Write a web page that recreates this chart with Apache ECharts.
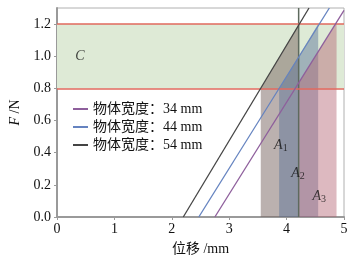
<!DOCTYPE html>
<html>
<head>
<meta charset="utf-8">
<script src="https://cdn.jsdelivr.net/npm/echarts@6/dist/echarts.min.js"></script>
<style>
  html, body { margin: 0; padding: 0; background: #fff; }
  #chart { width: 361px; height: 261px; }
</style>
</head>
<body>
<div id="chart"></div>
<script>
// force-displacement lines for each object width
const seriesNames = ["物体宽度：34 mm", "物体宽度：44 mm", "物体宽度：54 mm"];
const line34 = [[2.75, 0], [5.0, 1.285]];
const line44 = [[2.47, 0], [4.745, 1.3]];
const line54 = [[2.2, 0], [4.39, 1.3]];

// shaded areas under each line between F = 0.8 and F = 1.2
const areaA1 = [[3.55, 0.8], [4.21, 1.2]];
const areaA2 = [[3.87, 0.8], [4.55, 1.2]];
const areaA3 = [[4.2, 0.83], [4.87, 1.21]];

const bandLow = 0.8;
const bandHigh = 1.2;
const dividerX = 4.21;

const annotations = [
  { value: [0.4, 1.0], text: "{i|C}" },
  { value: [3.9, 0.445], text: "{i|A}{s|1}" },
  { value: [4.2, 0.27], text: "{i|A}{s|2}" },
  { value: [4.57, 0.13], text: "{i|A}{s|3}" }
];

const serif = "'Liberation Serif', 'Noto Sans CJK SC', serif";
const colors = ["#8e5f9c", "#6583c0", "#444444"];

const chart = echarts.init(document.getElementById("chart"));

const areaSeries = (data, color) => ({
  type: "line",
  data: data,
  showSymbol: false,
  silent: true,
  lineStyle: { width: 0 },
  areaStyle: { color: color, opacity: 1 },
  z: 3
});

const option = {
  animation: false,
  textStyle: { fontFamily: serif },
  grid: { left: 57, right: 17, top: 8, bottom: 40, show: true, borderColor: "#b0b0b0", borderWidth: 1 },
  legend: {
    orient: "vertical",
    left: 68,
    top: 97,
    itemGap: 4,
    itemWidth: 15,
    itemHeight: 2,
    icon: "rect",
    data: seriesNames,
    textStyle: { fontFamily: serif, fontSize: 14, color: "#111" }
  },
  xAxis: {
    type: "value",
    min: 0,
    max: 5,
    interval: 1,
    name: "位移 /mm",
    nameLocation: "middle",
    nameGap: 25,
    nameTextStyle: { fontFamily: serif, fontSize: 14, color: "#111" },
    axisLine: { lineStyle: { color: "#9a9a9a", width: 2 } },
    axisTick: { length: 3, lineStyle: { color: "#9a9a9a" } },
    axisLabel: { color: "#111", fontSize: 14, margin: 5 },
    splitLine: { show: false }
  },
  yAxis: {
    type: "value",
    min: 0,
    max: 1.3,
    interval: 0.2,
    name: "{i|F} /N",
    nameLocation: "middle",
    nameGap: 30,
    nameTextStyle: {
      fontFamily: serif, fontSize: 14, color: "#111",
      rich: { i: { fontStyle: "italic", fontFamily: serif, fontSize: 14, color: "#111" } }
    },
    axisLine: { show: true, lineStyle: { color: "#9a9a9a", width: 2 } },
    axisTick: { show: true, length: 3, lineStyle: { color: "#9a9a9a" } },
    axisLabel: {
      color: "#111", fontSize: 14, margin: 6, showMaxLabel: false,
      formatter: (v) => v.toFixed(1)
    },
    splitLine: { show: false }
  },
  series: [
    {
      name: "band",
      type: "line",
      data: [],
      silent: true,
      z: 1,
      markArea: {
        silent: true,
        itemStyle: { color: "#deead6" },
        data: [[{ yAxis: bandLow }, { yAxis: bandHigh }]]
      },
      markLine: {
        silent: true,
        symbol: "none",
        label: { show: false },
        lineStyle: { color: "#e0695c", width: 1.5, type: "solid" },
        data: [{ yAxis: bandLow }, { yAxis: bandHigh }]
      }
    },
    areaSeries(areaA1, "rgba(120,100,95,0.5)"),
    areaSeries(areaA2, "rgba(85,110,150,0.45)"),
    areaSeries(areaA3, "rgba(180,100,115,0.45)"),
    {
      type: "line",
      data: [[dividerX, 0], [dividerX, 1.3]],
      showSymbol: false,
      silent: true,
      lineStyle: { color: "#5e6a5e", width: 1.5 },
      z: 4
    },
    { name: seriesNames[0], type: "line", data: line34, showSymbol: false, lineStyle: { color: colors[0], width: 1.3 }, itemStyle: { color: colors[0] }, z: 5 },
    { name: seriesNames[1], type: "line", data: line44, showSymbol: false, lineStyle: { color: colors[1], width: 1.3 }, itemStyle: { color: colors[1] }, z: 5 },
    { name: seriesNames[2], type: "line", data: line54, showSymbol: false, lineStyle: { color: colors[2], width: 1.3 }, itemStyle: { color: colors[2] }, z: 5 },
    {
      type: "scatter",
      symbolSize: 0,
      silent: true,
      z: 6,
      data: annotations.map((a) => ({ value: a.value, label: { formatter: a.text } })),
      label: {
        show: true,
        position: "inside",
        rich: {
          i: { fontStyle: "italic", fontFamily: serif, fontSize: 14, color: "#111" },
          s: { fontFamily: serif, fontSize: 10, color: "#111", verticalAlign: "bottom", padding: [6, 0, 0, 0] }
        }
      }
    }
  ]
};

chart.setOption(option);
</script>
</body>
</html>
